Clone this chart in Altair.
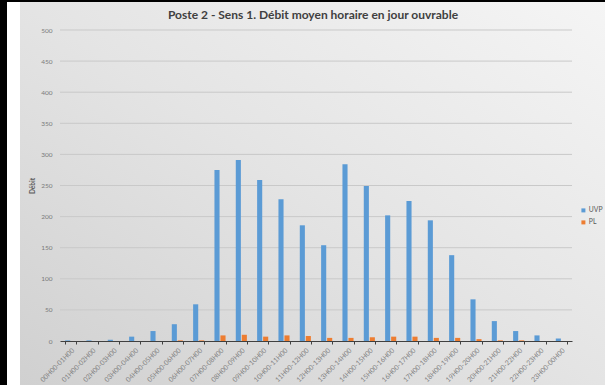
import altair as alt
import pandas as pd

# Hourly slots (working-day average)
hours = [
    "00H00-01H00", "01H00-02H00", "02H00-03H00", "03H00-04H00",
    "04H00-05H00", "05H00-06H00", "06H00-07H00", "07H00-08H00",
    "08H00-09H00", "09H00-10H00", "10H00-11H00", "11H00-12H00",
    "12H00-13H00", "13H00-14H00", "14H00-15H00", "15H00-16H00",
    "16H00-17H00", "17H00-18H00", "18H00-19H00", "19H00-20H00",
    "20H00-21H00", "21H00-22H00", "22H00-23H00", "23H00-00H00",
]
# Light vehicles (UVP) and heavy goods vehicles (PL)
uvp = [1, 1, 2, 7, 16, 27, 59, 275, 291, 259, 228, 186,
       154, 284, 249, 202, 225, 194, 138, 67, 32, 16, 9, 4]
pl = [0, 0, 0, 0, 0, 1, 1, 9, 10, 7, 9, 8,
      5, 5, 6, 7, 7, 5, 5, 3, 1, 1, 0, 0]
series = ["UVP", "PL"]
y_ticks = [0, 50, 100, 150, 200, 250, 300, 350, 400, 450, 500]
chart_title = "Poste 2 - Sens 1. Débit moyen horaire en jour ouvrable"

rows = []
for h, a, b in zip(hours, uvp, pl):
    rows.append({"heure": h, "type": "UVP", "debit": a})
    rows.append({"heure": h, "type": "PL", "debit": b})
df = pd.DataFrame(rows)
grid_df = pd.DataFrame({"debit": [t for t in y_ticks if t > 0]})
one = pd.DataFrame({"k": [0]})

W, H = 512, 311
PAD_L, PAD_T, PAD_R, PAD_B = 60, 30, 33, 44
FONT = "Lato"

# Panel background with a soft grey-to-white gradient
bg = alt.Chart(one).mark_rect(
    color=alt.LinearGradient(
        gradient="linear",
        x1=0, y1=1, x2=1, y2=0,
        stops=[
            alt.GradientStop(color="#d0d0d0", offset=0),
            alt.GradientStop(color="#e4e4e4", offset=0.5),
            alt.GradientStop(color="#f5f5f5", offset=1),
        ],
    )
).encode(
    x=alt.value(20 - PAD_L), x2=alt.value(605 - PAD_L),
    y=alt.value(2 - PAD_T), y2=alt.value(385 - PAD_T),
)

# Frame lines on the left and top edges
left_edge = alt.Chart(one).mark_rect(color="#000000").encode(
    x=alt.value(-PAD_L), x2=alt.value(7 - PAD_L),
    y=alt.value(-PAD_T), y2=alt.value(385 - PAD_T),
)
top_edge = alt.Chart(one).mark_rect(color="#000000").encode(
    x=alt.value(-PAD_L), x2=alt.value(605 - PAD_L),
    y=alt.value(-PAD_T), y2=alt.value(2 - PAD_T),
)

# Chart heading, centred over the panel
heading = alt.Chart(one).mark_text(
    font=FONT, fontSize=12, fontWeight="bold", color="#404040",
    align="center", baseline="middle",
).encode(
    x=alt.value(313 - PAD_L), y=alt.value(15 - PAD_T),
    text=alt.value(chart_title),
)

yscale = alt.Scale(domain=[0, 500], nice=False)
yaxis = alt.Axis(
    title="Débit",
    titleFont=FONT,
    titleFontSize=6.5,
    titleFontWeight="bold",
    titleColor="#595959",
    titlePadding=5,
    values=y_ticks,
    labelFont=FONT,
    labelFontSize=6.5,
    labelColor="#7a7a7a",
    labelPadding=8,
    domain=False,
    ticks=False,
    grid=False,
    zindex=2,
)

grid = alt.Chart(grid_df).mark_rule(color="#c9c9c9", strokeWidth=1).encode(
    y=alt.Y("debit:Q", scale=yscale, axis=yaxis),
)

bars = alt.Chart(df).mark_bar().encode(
    x=alt.X(
        "heure:N",
        sort=hours,
        scale=alt.Scale(paddingInner=0.48, paddingOuter=0.24),
        axis=alt.Axis(
            title=None,
            labelAngle=-45,
            labelFont=FONT,
            labelFontSize=6.8,
            labelColor="#808080",
            labelPadding=3,
            domainColor="#404040",
            domainWidth=1,
            tickColor="#404040",
            tickSize=3,
            tickBand="extent",
            grid=False,
            zindex=2,
        ),
    ),
    xOffset=alt.XOffset("type:N", sort=series,
                        scale=alt.Scale(paddingInner=0.15)),
    y=alt.Y("debit:Q", scale=yscale, axis=yaxis),
    color=alt.Color(
        "type:N",
        scale=alt.Scale(domain=series, range=["#5b9bd5", "#ed7d31"]),
        legend=alt.Legend(
            title=None,
            orient="none",
            legendX=580 - PAD_L,
            legendY=207 - PAD_T,
            symbolType="square",
            symbolSize=16,
            symbolStrokeWidth=0,
            labelFont=FONT,
            labelFontSize=6.8,
            labelColor="#595959",
            rowPadding=4,
            labelOffset=2,
            zindex=2,
        ),
    ),
)

chart = alt.layer(bg, left_edge, top_edge, heading, grid, bars).properties(
    width=W,
    height=H,
    autosize=alt.AutoSizeParams(type="none"),
    padding={"left": PAD_L, "top": PAD_T, "right": PAD_R, "bottom": PAD_B},
).configure(background="#ffffff").configure_view(stroke=None)

chart.save("out.html", embed_options={"renderer": "svg", "actions": False})
